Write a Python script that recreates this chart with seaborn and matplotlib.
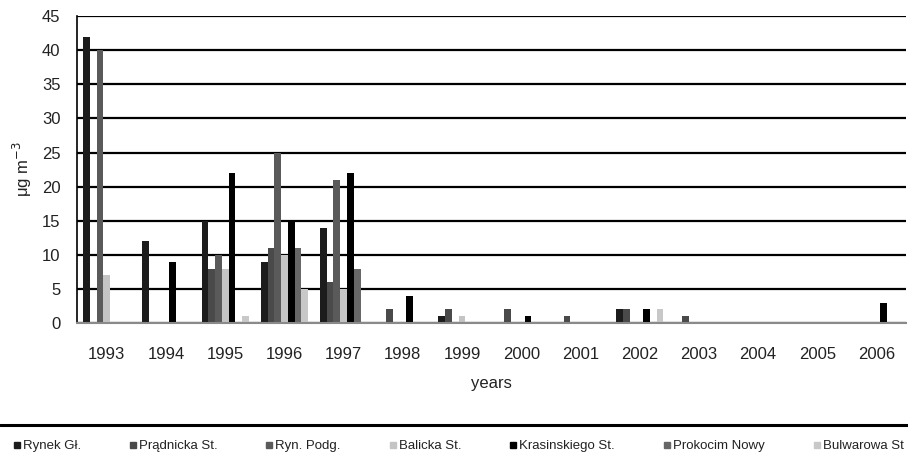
import matplotlib
matplotlib.use("Agg")
import matplotlib.pyplot as plt
import seaborn as sns
import pandas as pd
from matplotlib.lines import Line2D
from matplotlib.ticker import FixedLocator

years = ["1993", "1994", "1995", "1996", "1997", "1998", "1999",
         "2000", "2001", "2002", "2003", "2004", "2005", "2006"]
series_names = ["Rynek Gł.", "Prądnicka St.", "Ryn. Podg.", "Balicka St.",
                "Krasinskiego St.", "Prokocim Nowy", "Bulwarowa St"]
rynek        = [42, 12, 15,  9, 14, 0, 1, 0, 0, 2, 0, 0, 0, 0]
pradnicka    = [ 0,  0,  8, 11,  6, 2, 2, 2, 1, 2, 1, 0, 0, 0]
ryn_podg     = [40,  0, 10, 25, 21, 0, 0, 0, 0, 0, 0, 0, 0, 0]
balicka      = [ 7,  0,  8, 10,  5, 0, 1, 0, 0, 0, 0, 0, 0, 0]
krasinskiego = [ 0,  9, 22, 15, 22, 4, 0, 1, 0, 2, 0, 0, 0, 3]
prokocim     = [ 0,  0,  0, 11,  8, 0, 0, 0, 0, 0, 0, 0, 0, 0]
bulwarowa    = [ 0,  0,  1,  5,  0, 0, 0, 0, 0, 2, 0, 0, 0, 0]
colors = ["#1c1c1c", "#4a4a4a", "#5a5a5a", "#c4c4c4", "#000000", "#676767", "#c8c8c8"]

values = [rynek, pradnicka, ryn_podg, balicka, krasinskiego, prokocim, bulwarowa]
rows = []
for name, vals in zip(series_names, values):
    for y, v in zip(years, vals):
        rows.append({"year": y, "series": name, "value": v})
df = pd.DataFrame(rows)

sns.set_style("white")
plt.rcParams["font.family"] = ["Liberation Sans", "DejaVu Sans"]

fig = plt.figure(figsize=(9.08, 4.59), dpi=100)
ax = fig.add_axes([0.085, 0.296, 0.913, 0.669])

sns.barplot(data=df, x="year", y="value", hue="series", order=years,
            hue_order=series_names, palette=colors, width=0.8,
            saturation=1, ax=ax, legend=False, linewidth=0, errorbar=None)

ax.set_xlim(-0.5, len(years) - 0.5)
ax.set_ylim(0, 45)
ax.set_yticks(range(0, 46, 5))
ax.yaxis.grid(True, color="black", linewidth=1.6)
ax.set_axisbelow(True)
for s in ["top", "right"]:
    ax.spines[s].set_visible(False)
ax.spines["left"].set_color("black")
ax.spines["left"].set_linewidth(1.2)
ax.spines["bottom"].set_color("#8a8a8a")
ax.spines["bottom"].set_linewidth(1.5)

ax.tick_params(axis="x", which="major", length=0, labelsize=12, colors="#222222", pad=17)
ax.xaxis.set_minor_locator(FixedLocator([i - 0.5 for i in range(len(years) + 1)]))
ax.tick_params(axis="x", which="minor", length=6, width=1.2, color="black", direction="out")
ax.tick_params(axis="y", length=7, width=1.2, color="black", direction="out",
               labelsize=12, labelcolor="#222222", pad=5)

ax.set_xlabel("years", fontsize=12, color="#222222", labelpad=10)
ax.set_ylabel("μg m$^{-3}$", fontsize=12, color="#222222", labelpad=6)

fig.add_artist(Line2D([0, 1], [0.074, 0.074], color="black", linewidth=2.2,
                      transform=fig.transFigure))

handles = [Line2D([], [], marker="s", linestyle="none", markersize=5,
                  markerfacecolor=c, markeredgecolor=c) for c in colors]
fig.legend(handles, series_names, loc="center", bbox_to_anchor=(0.505, 0.028),
           ncol=7, frameon=False, fontsize=9.5, handlelength=0.5,
           handletextpad=0.2, columnspacing=3.7, labelcolor="#222222",
           borderpad=0, borderaxespad=0)

fig.savefig("out.png", dpi=100)
